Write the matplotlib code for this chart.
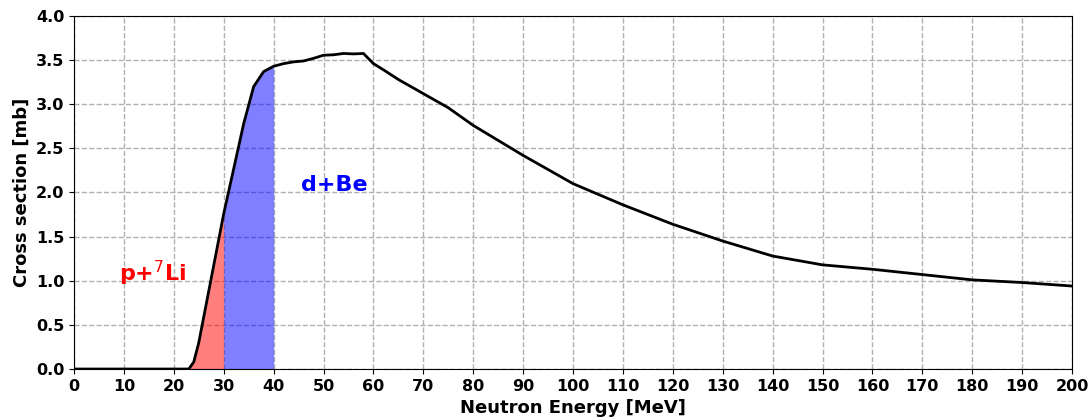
import matplotlib
matplotlib.use("Agg")
import matplotlib.pyplot as plt
import numpy as np

energy = [0, 5, 10, 15, 20, 23, 24, 25, 30, 32, 34, 36, 38, 40, 42, 44, 46,
          48, 50, 52, 54, 56, 58, 60, 62, 65, 70, 75, 80, 90, 100, 110, 120, 130,
          140, 150, 160, 170, 180, 190, 200]
xsec = [0, 0, 0, 0, 0, 0.0, 0.08, 0.3, 1.76, 2.27, 2.78, 3.2, 3.37, 3.43, 3.46, 3.48, 3.49,
        3.52, 3.555, 3.56, 3.575, 3.57, 3.575, 3.46, 3.39, 3.28, 3.12, 2.96, 2.76, 2.42, 2.1, 1.86, 1.64, 1.45,
        1.28, 1.18, 1.13, 1.07, 1.01, 0.98, 0.94]

li_range = (0, 30)
be_range = (30, 40)

E = np.array(energy)
S = np.array(xsec)

fig = plt.figure(figsize=(10.92, 4.2), dpi=100)
ax = fig.add_axes([0.0678, 0.1214, 0.9139, 0.8406])

ax.fill_between(E, 0, S, where=(E >= li_range[0]) & (E <= li_range[1]),
                color='red', alpha=0.5, linewidth=0)
ax.fill_between(E, 0, S, where=(E >= be_range[0]) & (E <= be_range[1]),
                color='blue', alpha=0.5, linewidth=0)
ax.plot(E, S, color='black', linewidth=2)

ax.text(9, 1.0, r'p+$^7$Li', color='red', fontsize=16, fontweight='bold')
ax.text(45.5, 2.08, 'd+Be', color='blue', fontsize=16, fontweight='bold', va='center')

ax.set_xlim(0, 200)
ax.set_ylim(0, 4.0)
ax.set_xticks(np.arange(0, 201, 10))
ax.set_yticks(np.arange(0, 4.01, 0.5))
ax.set_yticklabels([f'{v:.1f}' for v in np.arange(0, 4.01, 0.5)])
for lbl in ax.get_xticklabels() + ax.get_yticklabels():
    lbl.set_fontweight('bold')
    lbl.set_fontsize(11.5)
ax.set_xlabel('Neutron Energy [MeV]', fontsize=13, fontweight='bold')
ax.set_ylabel('Cross section [mb]', fontsize=13, fontweight='bold')
ax.grid(True, linestyle='--', color='#b0b0b0', linewidth=1)
ax.set_axisbelow(True)

fig.savefig('out.png', dpi=100)
